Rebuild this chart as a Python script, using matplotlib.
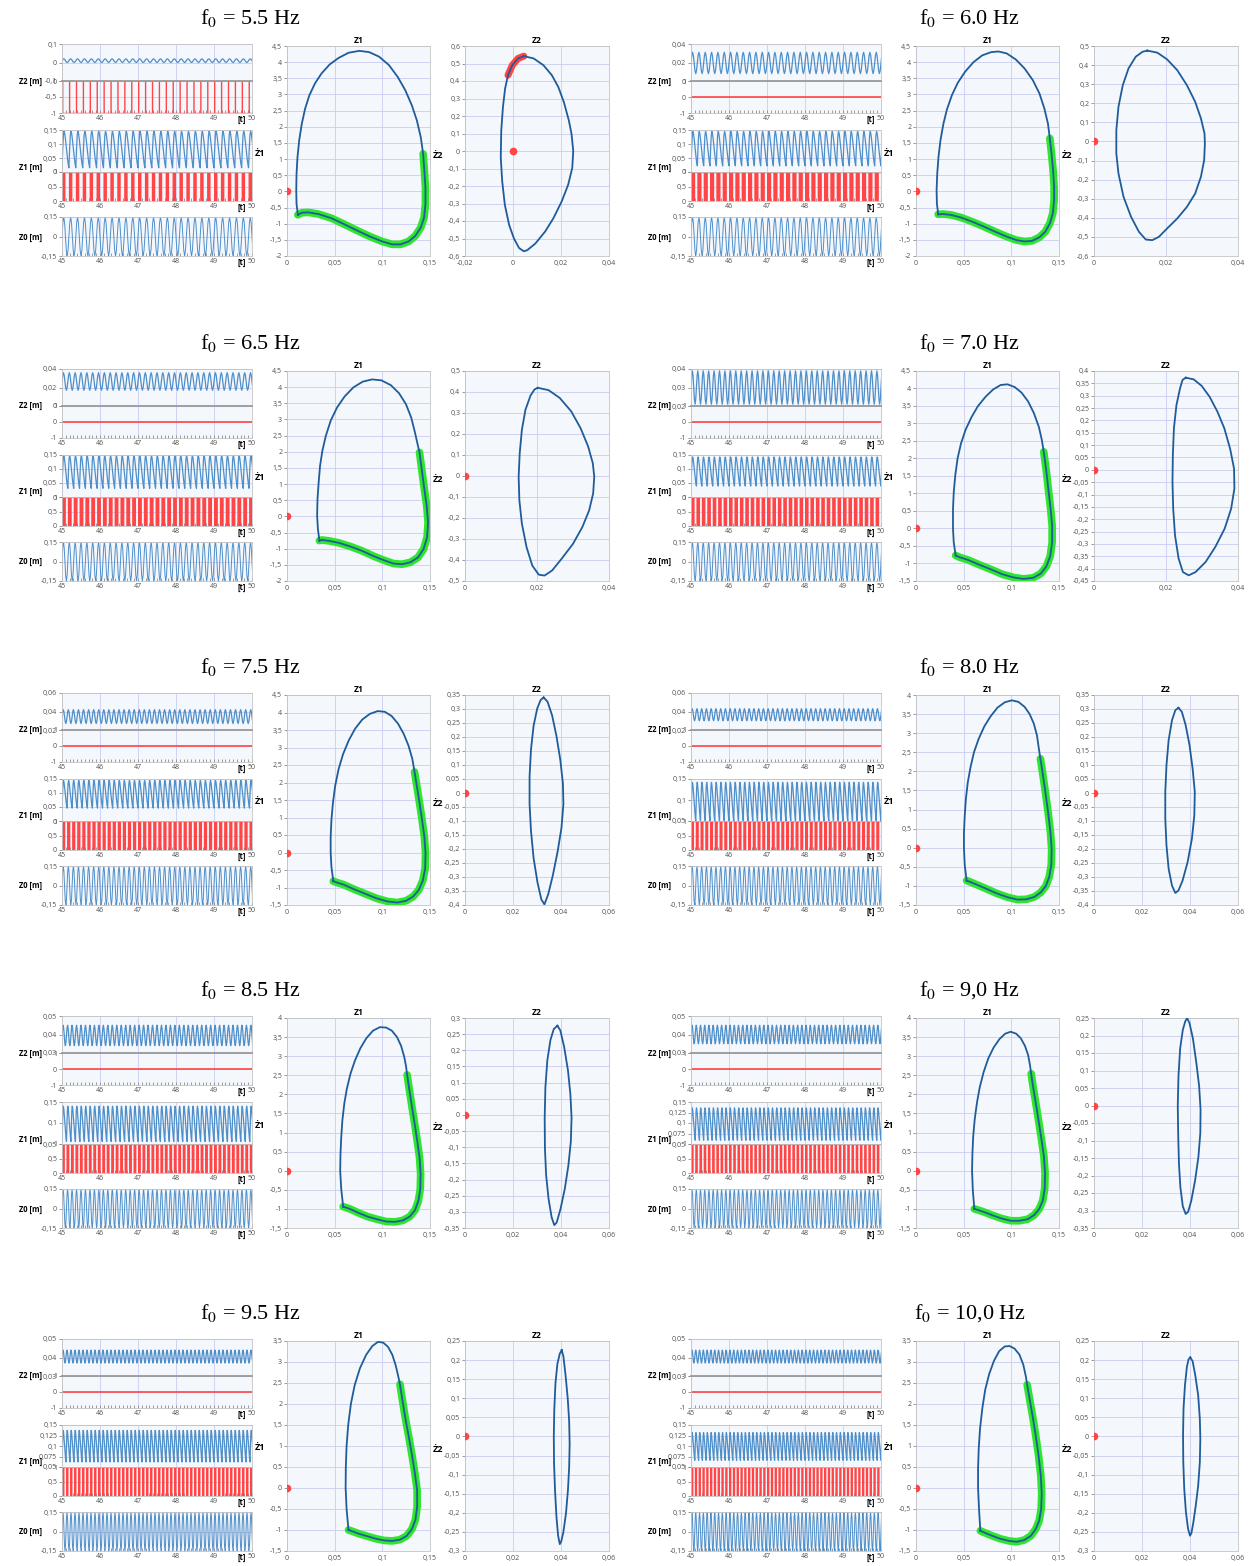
import numpy as np
import matplotlib
matplotlib.use('Agg')
import matplotlib.pyplot as plt

# ---- data ----
freq = [5.5, 6.0, 6.5, 7.0, 7.5, 8.0, 8.5, 9.0, 9.5, 10.0]
freq_label = ['5.5', '6.0', '6.5', '7.0', '7.5', '8.0', '8.5', '9,0', '9.5', '10,0']

# Z1 phase orbits (z1 [m], dz1/dt), from the lower-left corner, clockwise
z1_orbit = [
    [(0.0114, -0.725), (0.010, -0.39), (0.0097, 0.02), (0.010, 0.54), (0.011, 1.06), (0.0128, 1.58), (0.0155, 2.09),
     (0.019, 2.56), (0.0234, 2.97), (0.0293, 3.34), (0.0362, 3.65), (0.0448, 3.93), (0.0541, 4.13), (0.0645, 4.29),
     (0.0759, 4.35), (0.0862, 4.31), (0.0966, 4.17), (0.1069, 3.91), (0.1162, 3.54), (0.1241, 3.13), (0.131, 2.66),
     (0.1362, 2.2), (0.1403, 1.68), (0.1428, 1.16), (0.1441, 0.64), (0.1452, 0.12), (0.1452, -0.39), (0.1438, -0.81),
     (0.1403, -1.12), (0.1345, -1.38), (0.1276, -1.55), (0.119, -1.64), (0.1103, -1.64), (0.100, -1.55), (0.0879, -1.41),
     (0.0741, -1.22), (0.0603, -1.02), (0.0466, -0.83), (0.0328, -0.70), (0.0224, -0.65), (0.0155, -0.66), (0.0114, -0.725)],
    [(0.0233, -0.71), (0.0219, -0.37), (0.0216, 0.04), (0.0223, 0.56), (0.0236, 1.07), (0.0257, 1.59), (0.0288, 2.1),
     (0.0325, 2.54), (0.0377, 2.98), (0.0438, 3.36), (0.0514, 3.7), (0.0603, 4.0), (0.0695, 4.21), (0.0788, 4.31),
     (0.0866, 4.33), (0.0952, 4.27), (0.1048, 4.08), (0.114, 3.8), (0.1226, 3.44), (0.1295, 3.03), (0.1346, 2.57),
     (0.1384, 2.1), (0.1404, 1.64), (0.1421, 1.18), (0.1438, 0.66), (0.1449, 0.14), (0.1449, -0.27), (0.1435, -0.68),
     (0.1404, -0.99), (0.1356, -1.25), (0.1295, -1.42), (0.1219, -1.53), (0.114, -1.55), (0.1055, -1.51), (0.0952, -1.40),
     (0.0832, -1.25), (0.0712, -1.09), (0.0592, -0.94), (0.0473, -0.81), (0.037, -0.73), (0.0284, -0.70), (0.0233, -0.71)],
    [(0.034, -0.75), (0.0324, -0.39), (0.0316, 0.02), (0.032, 0.54), (0.0332, 1.05), (0.0347, 1.57), (0.0371, 2.03),
     (0.0407, 2.49), (0.0458, 2.96), (0.0525, 3.37), (0.0604, 3.71), (0.0695, 3.99), (0.0794, 4.17), (0.0892, 4.24),
     (0.0991, 4.21), (0.109, 4.06), (0.1176, 3.81), (0.1248, 3.47), (0.1303, 3.06), (0.1342, 2.6), (0.1374, 2.18),
     (0.139, 1.98), (0.1413, 1.46), (0.1441, 0.84), (0.1465, 0.33), (0.148, -0.19), (0.1469, -0.65), (0.1433, -1.01),
     (0.1374, -1.27), (0.1295, -1.42), (0.1208, -1.48), (0.1117, -1.46), (0.1019, -1.36), (0.090, -1.22), (0.0782, -1.06),
     (0.0663, -0.93), (0.0545, -0.82), (0.0446, -0.76), (0.0367, -0.73), (0.034, -0.75)],
    [(0.0416, -0.77), (0.0396, -0.40), (0.0388, 0.0), (0.0388, 0.56), (0.0396, 1.04), (0.0412, 1.52), (0.0436, 2.0),
     (0.0472, 2.43), (0.052, 2.82), (0.058, 3.17), (0.0648, 3.49), (0.0728, 3.76), (0.0808, 3.97), (0.0888, 4.10),
     (0.096, 4.12), (0.1036, 4.04), (0.1108, 3.88), (0.1176, 3.63), (0.1236, 3.3), (0.1288, 2.91), (0.132, 2.53),
     (0.134, 2.19), (0.1364, 1.71), (0.1388, 1.13), (0.1412, 0.56), (0.1428, 0.08), (0.1428, -0.40), (0.1408, -0.79),
     (0.1368, -1.08), (0.1308, -1.29), (0.1228, -1.41), (0.1128, -1.44), (0.1028, -1.40), (0.0908, -1.31), (0.0788, -1.17),
     (0.0668, -1.04), (0.0548, -0.90), (0.0456, -0.82), (0.0416, -0.77)],
    [(0.0486, -0.82), (0.0466, -0.41), (0.0458, 0.0), (0.0458, 0.45), (0.0466, 0.93), (0.0482, 1.42), (0.0505, 1.9),
     (0.0541, 2.38), (0.0588, 2.81), (0.0647, 3.2), (0.0715, 3.54), (0.079, 3.8), (0.0869, 3.96), (0.0951, 4.04),
     (0.1026, 4.02), (0.1097, 3.9), (0.1165, 3.68), (0.1224, 3.39), (0.1275, 3.05), (0.1315, 2.67), (0.1338, 2.3),
     (0.1362, 1.9), (0.139, 1.42), (0.1417, 0.93), (0.1441, 0.45), (0.1453, -0.03), (0.1449, -0.46), (0.1425, -0.80),
     (0.1382, -1.07), (0.1323, -1.26), (0.1248, -1.38), (0.1157, -1.43), (0.1058, -1.40), (0.094, -1.31), (0.0821, -1.18),
     (0.0703, -1.05), (0.0596, -0.92), (0.0525, -0.86), (0.0486, -0.82)],
    [(0.0531, -0.86), (0.0511, -0.45), (0.0503, 0.0), (0.0503, 0.39), (0.0511, 0.83), (0.0523, 1.27), (0.0543, 1.71),
     (0.0572, 2.11), (0.0608, 2.5), (0.0657, 2.85), (0.0717, 3.18), (0.0782, 3.44), (0.0855, 3.67), (0.0932, 3.81),
     (0.1005, 3.86), (0.1074, 3.82), (0.1139, 3.69), (0.1192, 3.5), (0.1236, 3.25), (0.1269, 2.94), (0.1289, 2.59),
     (0.1305, 2.33), (0.133, 1.93), (0.1358, 1.44), (0.1386, 0.92), (0.1411, 0.39), (0.1423, -0.05), (0.1419, -0.45),
     (0.1398, -0.76), (0.1362, -1.0), (0.1309, -1.17), (0.124, -1.29), (0.1159, -1.35), (0.1066, -1.36), (0.0965, -1.30),
     (0.0851, -1.20), (0.0742, -1.08), (0.064, -0.97), (0.0572, -0.90), (0.0531, -0.86)],
    [(0.0589, -0.94), (0.0569, -0.48), (0.0558, 0.0), (0.0561, 0.44), (0.0569, 0.88), (0.0581, 1.32), (0.0601, 1.76),
     (0.0628, 2.15), (0.0667, 2.55), (0.0715, 2.9), (0.077, 3.21), (0.0832, 3.47), (0.0903, 3.67), (0.0974, 3.76),
     (0.104, 3.75), (0.1099, 3.67), (0.1154, 3.5), (0.1197, 3.27), (0.1229, 2.99), (0.1249, 2.73), (0.126, 2.51),
     (0.1284, 2.11), (0.1311, 1.67), (0.1339, 1.23), (0.1366, 0.79), (0.139, 0.35), (0.1402, -0.09), (0.1398, -0.48),
     (0.1378, -0.79), (0.1343, -1.03), (0.1288, -1.20), (0.1217, -1.30), (0.1131, -1.34), (0.104, -1.33), (0.0942, -1.27),
     (0.0844, -1.20), (0.0746, -1.10), (0.066, -1.0), (0.0589, -0.94)],
    [(0.0612, -1.0), (0.0596, -0.51), (0.0588, 0.0), (0.0592, 0.46), (0.060, 0.9), (0.0616, 1.35), (0.064, 1.79),
     (0.0669, 2.19), (0.0709, 2.58), (0.0758, 2.94), (0.0815, 3.23), (0.0876, 3.45), (0.0936, 3.59), (0.0993, 3.64),
     (0.105, 3.59), (0.1099, 3.47), (0.1143, 3.27), (0.1176, 3.03), (0.1196, 2.76), (0.1208, 2.54), (0.1232, 2.14),
     (0.1261, 1.7), (0.1289, 1.26), (0.1317, 0.81), (0.1342, 0.37), (0.1354, -0.07), (0.135, -0.47), (0.133, -0.78),
     (0.1293, -1.0), (0.124, -1.16), (0.1171, -1.27), (0.1086, -1.31), (0.0993, -1.31), (0.0896, -1.25), (0.0795, -1.16),
     (0.0701, -1.07), (0.064, -1.02), (0.0612, -1.0)],
    [(0.0645, -1.0), (0.0625, -0.5), (0.0615, 0.0), (0.0617, 0.5), (0.0625, 1.0), (0.0642, 1.5), (0.067, 2.0),
     (0.071, 2.45), (0.0765, 2.85), (0.083, 3.17), (0.0895, 3.38), (0.0955, 3.48), (0.101, 3.46), (0.106, 3.36),
     (0.1105, 3.17), (0.114, 2.92), (0.1165, 2.68), (0.1185, 2.47), (0.121, 2.1), (0.124, 1.68), (0.1275, 1.25),
     (0.131, 0.8), (0.134, 0.37), (0.1365, -0.05), (0.1365, -0.45), (0.1348, -0.75), (0.131, -0.98), (0.1255, -1.14),
     (0.1185, -1.23), (0.1105, -1.26), (0.1025, -1.25), (0.0935, -1.21), (0.0845, -1.15), (0.0755, -1.09),
     (0.0685, -1.03), (0.0645, -1.0)],
    [(0.0675, -1.02), (0.0661, -0.5), (0.0651, 0.0), (0.0651, 0.46), (0.0658, 0.94), (0.0672, 1.42), (0.0696, 1.9),
     (0.0726, 2.34), (0.0767, 2.71), (0.0818, 3.03), (0.0873, 3.26), (0.0931, 3.37), (0.0982, 3.38), (0.1033, 3.32),
     (0.1084, 3.18), (0.1125, 2.94), (0.1152, 2.66), (0.1166, 2.46), (0.1193, 2.1), (0.1224, 1.7), (0.1255, 1.26),
     (0.1285, 0.78), (0.1309, 0.3), (0.1319, -0.14), (0.1313, -0.5), (0.1292, -0.78), (0.1255, -0.98), (0.1204, -1.14),
     (0.1135, -1.24), (0.1057, -1.28), (0.0975, -1.26), (0.0886, -1.21), (0.0801, -1.14), (0.0726, -1.07), (0.0675, -1.02)],
]
# dz1/dt on the falling branch where the green (contact) part starts
z1_contact_v = [1.16, 1.64, 1.98, 2.19, 2.3, 2.33, 2.51, 2.54, 2.47, 2.46]

# Z2 phase orbits, from the top, clockwise
z2_orbit = [
    [(0.0045, 0.542), (0.0086, 0.529), (0.0127, 0.49), (0.0162, 0.433), (0.0189, 0.365), (0.0212, 0.279), (0.0233, 0.173),
     (0.0244, 0.096), (0.0251, 0.0), (0.0247, -0.096), (0.023, -0.192), (0.0203, -0.288), (0.0168, -0.385), (0.0134, -0.46),
     (0.0093, -0.529), (0.0059, -0.567), (0.0045, -0.573), (0.0025, -0.554), (0.0004, -0.50), (-0.0016, -0.423),
     (-0.0034, -0.308), (-0.0045, -0.173), (-0.0051, -0.038), (-0.0049, 0.115), (-0.0042, 0.25), (-0.0033, 0.356),
     (-0.0021, 0.433), (-0.0003, 0.49), (0.0021, 0.529), (0.0045, 0.542)],
    [(0.0148, 0.476), (0.0176, 0.465), (0.0203, 0.43), (0.0231, 0.374), (0.0258, 0.295), (0.0281, 0.208), (0.0297, 0.121),
     (0.0307, 0.042), (0.0308, -0.01), (0.0306, -0.098), (0.0297, -0.185), (0.0281, -0.273), (0.0258, -0.343),
     (0.0231, -0.404), (0.0203, -0.456), (0.018, -0.50), (0.0162, -0.517), (0.0144, -0.514), (0.0125, -0.474),
     (0.0103, -0.395), (0.0082, -0.29), (0.0068, -0.168), (0.0062, -0.063), (0.0062, 0.059), (0.0068, 0.182),
     (0.008, 0.295), (0.0096, 0.383), (0.0116, 0.444), (0.0135, 0.47), (0.0148, 0.476)],
    [(0.0202, 0.42), (0.0232, 0.409), (0.0263, 0.372), (0.0295, 0.308), (0.0321, 0.228), (0.0342, 0.141), (0.0355, 0.061),
     (0.0359, -0.003), (0.0356, -0.083), (0.0345, -0.163), (0.0326, -0.243), (0.030, -0.323), (0.0268, -0.395),
     (0.0242, -0.45), (0.0221, -0.474), (0.0205, -0.47), (0.0187, -0.427), (0.0171, -0.339), (0.0158, -0.227),
     (0.0151, -0.115), (0.0149, -0.003), (0.0152, 0.109), (0.0158, 0.22), (0.0168, 0.316), (0.0182, 0.383),
     (0.0193, 0.412), (0.0202, 0.42)],
    [(0.0255, 0.373), (0.0277, 0.366), (0.0299, 0.34), (0.0321, 0.296), (0.0343, 0.235), (0.0362, 0.168), (0.0378, 0.086),
     (0.0389, 0.005), (0.039, -0.076), (0.0381, -0.157), (0.0363, -0.238), (0.0337, -0.312), (0.031, -0.373),
     (0.0282, -0.414), (0.0263, -0.427), (0.0247, -0.414), (0.0235, -0.359), (0.0225, -0.265), (0.022, -0.157),
     (0.0218, -0.049), (0.0219, 0.059), (0.0222, 0.168), (0.0229, 0.262), (0.0239, 0.33), (0.0246, 0.364), (0.0255, 0.373)],
    [(0.0328, 0.341), (0.0344, 0.326), (0.0363, 0.277), (0.0381, 0.204), (0.0397, 0.119), (0.0408, 0.034), (0.041, -0.039),
     (0.0402, -0.124), (0.0386, -0.209), (0.0366, -0.294), (0.0347, -0.361), (0.0331, -0.398), (0.0318, -0.38),
     (0.0302, -0.319), (0.0286, -0.234), (0.0275, -0.136), (0.0269, -0.039), (0.0269, 0.058), (0.0275, 0.156),
     (0.0286, 0.241), (0.0301, 0.302), (0.0315, 0.332), (0.0328, 0.341)],
    [(0.0352, 0.304), (0.0366, 0.29), (0.0382, 0.242), (0.0398, 0.171), (0.0411, 0.087), (0.042, 0.004), (0.0418, -0.08),
     (0.0408, -0.163), (0.039, -0.247), (0.0369, -0.313), (0.0352, -0.348), (0.0339, -0.357), (0.0325, -0.331),
     (0.0311, -0.271), (0.0302, -0.187), (0.0297, -0.092), (0.0297, 0.004), (0.0302, 0.099), (0.0311, 0.189),
     (0.0325, 0.26), (0.0339, 0.296), (0.0352, 0.304)],
    [(0.0385, 0.276), (0.0397, 0.262), (0.0413, 0.211), (0.0429, 0.138), (0.0439, 0.065), (0.0444, -0.008), (0.0441, -0.082),
     (0.0431, -0.155), (0.0416, -0.228), (0.0398, -0.291), (0.0382, -0.333), (0.0372, -0.341), (0.0361, -0.317),
     (0.0348, -0.259), (0.0338, -0.186), (0.0333, -0.103), (0.0332, -0.008), (0.0335, 0.086), (0.0343, 0.169),
     (0.0356, 0.232), (0.037, 0.266), (0.0385, 0.276)],
    [(0.0388, 0.25), (0.0398, 0.235), (0.0412, 0.192), (0.0426, 0.124), (0.0438, 0.056), (0.0444, -0.012), (0.0443, -0.079),
     (0.0435, -0.147), (0.0421, -0.215), (0.0405, -0.273), (0.0392, -0.304), (0.0382, -0.31), (0.037, -0.288),
     (0.036, -0.234), (0.0354, -0.167), (0.0351, -0.089), (0.0349, -0.002), (0.0352, 0.085), (0.0359, 0.163),
     (0.037, 0.216), (0.038, 0.24), (0.0388, 0.25)],
    [(0.0403, 0.226), (0.041, 0.21), (0.0419, 0.16), (0.0428, 0.10), (0.0434, 0.04), (0.0436, -0.02), (0.0434, -0.08),
     (0.0429, -0.14), (0.0421, -0.20), (0.041, -0.25), (0.0401, -0.275), (0.0395, -0.282), (0.0388, -0.26),
     (0.0381, -0.21), (0.0375, -0.14), (0.0371, -0.07), (0.037, 0.0), (0.0372, 0.07), (0.0377, 0.14), (0.0385, 0.19),
     (0.0395, 0.217), (0.0403, 0.226)],
    [(0.0401, 0.207), (0.0411, 0.197), (0.0422, 0.16), (0.0434, 0.108), (0.0441, 0.046), (0.0443, -0.006), (0.0441, -0.067),
     (0.0434, -0.129), (0.0424, -0.181), (0.0414, -0.225), (0.0406, -0.253), (0.040, -0.26), (0.0392, -0.242),
     (0.0383, -0.198), (0.0376, -0.137), (0.0372, -0.067), (0.0371, 0.003), (0.0373, 0.073), (0.0379, 0.134),
     (0.0387, 0.182), (0.0394, 0.202), (0.0401, 0.207)],
]
z2_contact_v_5_5 = 0.36  # red part of the 5.5 Hz Z2 orbit (rising branch above this)

# axis ranges of the phase plots
z1_vlim = [(-2, 4.5), (-2, 4.5), (-2, 4.5), (-1.5, 4.5), (-1.5, 4.5), (-1.5, 4), (-1.5, 4), (-1.5, 4), (-1.5, 3.5), (-1.5, 3.5)]
z2_xlim = [(-0.02, 0.04), (0, 0.04), (0, 0.04), (0, 0.04), (0, 0.06), (0, 0.06), (0, 0.06), (0, 0.06), (0, 0.06), (0, 0.06)]
z2_vlim = [(-0.6, 0.6), (-0.6, 0.5), (-0.5, 0.5), (-0.45, 0.4), (-0.4, 0.35), (-0.4, 0.35), (-0.35, 0.3), (-0.35, 0.25), (-0.3, 0.25), (-0.3, 0.25)]
z2_vstep = [0.1, 0.1, 0.1, 0.05, 0.05, 0.05, 0.05, 0.05, 0.05, 0.05]

# time histories 45..50 s
z2_lo = [0.0, 0.008, 0.017, 0.021, 0.027, 0.030, 0.034, 0.035, 0.037, 0.037]
z2_hi = [0.02, 0.031, 0.036, 0.039, 0.042, 0.043, 0.045, 0.045, 0.044, 0.044]
z1_lo = [0.015, 0.022, 0.031, 0.039, 0.046, 0.05, 0.056, 0.059, 0.062, 0.066]
z1_hi = [0.146, 0.145, 0.148, 0.143, 0.145, 0.142, 0.140, 0.136, 0.137, 0.132]
z2_ylim = [(-0.1, 0.1), (0, 0.04), (0, 0.04), (0.02, 0.04), (0.02, 0.06), (0.02, 0.06), (0.03, 0.05), (0.03, 0.05), (0.03, 0.05), (0.03, 0.05)]
z2_ystep = [0.1, 0.02, 0.02, 0.01, 0.02, 0.02, 0.01, 0.01, 0.01, 0.01]
z1_ylim = [(0, 0.15)] * 5 + [(0.05, 0.15)] * 5
z1_ystep = [0.05, 0.05, 0.05, 0.05, 0.05, 0.05, 0.05, 0.025, 0.025, 0.025]
z1_duty = [0.5, 0.66, 0.66, 0.66, 0.64, 0.64, 0.64, 0.62, 0.62, 0.62]
z2_duty_5_5 = 0.2
z0_amp = 0.15

# one period of each wave shape (normalised)
z1_wave = [0.0, 0.5, 0.88, 1.0, 0.93, 0.78, 0.6, 0.42, 0.25, 0.1]
z2_wave = [0.5, 0.85, 1.0, 0.85, 0.5, 0.15, 0.0, 0.15]
z0_wave = [0.0, 0.71, 1.0, 0.71, 0.0, -0.71, -1.0, -0.71]

# ---- drawing ----
W, H = 1258, 1566
BG = '#f4f7fb'
GRID = '#cacdf0'
TSBLUE = '#4f8fc9'
ORBIT = '#1f5c99'
GREEN = '#2fe52f'
RED = '#ff4545'

plt.rcParams['font.family'] = 'Open Sans'
plt.rcParams['mathtext.fontset'] = 'stix'

fig = plt.figure(figsize=(W / 100, H / 100), dpi=100)


def box(x0, y0, x1, y1):
    return fig.add_axes([x0 / W, 1 - y1 / H, (x1 - x0) / W, (y1 - y0) / H])


def fmt(v):
    return ('%g' % (round(v, 4) + 0.0)).replace('.', ',')


def ticks(lo, hi, step):
    return np.round(np.arange(lo, hi + step / 2, step), 4)


def style(ax, ylim, ystep):
    ax.set_facecolor(BG)
    for s in ax.spines.values():
        s.set_color('#c4c4c4')
        s.set_linewidth(0.6)
    ax.set_ylim(*ylim)
    yt = ticks(ylim[0], ylim[1], ystep)
    ax.set_yticks(yt)
    ax.set_yticklabels([fmt(v) for v in yt])
    ax.grid(True, color=GRID, lw=0.6)
    ax.set_axisbelow(True)
    ax.tick_params(labelsize=5, colors='#8a8a8a', labelcolor='#505050', length=2.5, width=0.6, pad=1)


def time_axis(ax, labels):
    ax.set_xlim(45, 50)
    ax.set_xticks([45, 46, 47, 48, 49, 50])
    if labels:
        ax.set_xticklabels(['45', '46', '47', '48', '49', '50'])
        ax.set_xticks(np.arange(45, 50.01, 0.1), minor=True)
        ax.tick_params(axis='x', which='minor', length=2, direction='in', color='#777777', width=0.5)
        ax.tick_params(axis='x', which='major', length=2, direction='in', pad=1.5)
        ax.annotate('[t]', xy=(50, 0), xycoords=('data', 'axes fraction'), xytext=(-4.5, -1.2),
                    textcoords='offset points', ha='right', va='top', fontsize=5.5, weight='bold')
    else:
        ax.set_xticklabels([])
        ax.tick_params(axis='x', length=0)


def tile(wave, f0, lo, hi):
    wave = np.asarray(wave)
    n = int(np.ceil(f0 * 5)) + 1
    k = len(wave)
    t = 45 + np.arange(n * k) / (k * f0)
    return t, lo + np.tile(wave, n) * (hi - lo)


def pulses(ax, f0, duty, on, off):
    n = int(np.ceil(f0 * 5)) + 1
    starts = 45 + np.arange(n) / f0
    bars = ax.bar(starts, on - off, bottom=off, width=duty / f0, align='edge', color=RED, lw=0)
    for b in bars:
        b.set_snap(False)
    ax.axhline(on, color=RED, lw=1.0)


rows_top = [18, 343, 667, 990, 1313]

for i in range(len(freq)):
    T = rows_top[i // 2]
    dx = 0 if i % 2 == 0 else 629
    f0 = freq[i]
    xl, xr = 62 + dx, 252 + dx

    fig.text((250 + dx * 1.144) / W, 1 - T / H, 'f$_0$ = ' + freq_label[i] + ' Hz', ha='center', va='center',
             fontsize=16, family='Liberation Serif')

    # Z2 history + contact
    ax = box(xl, T + 26, xr, T + 63)
    style(ax, z2_ylim[i], z2_ystep[i])
    time_axis(ax, False)
    t, v = tile(z2_wave, f0, z2_lo[i], z2_hi[i])
    ax.plot(t, v, color=TSBLUE, lw=0.9)
    ax = box(xl, T + 63, xr, T + 95)
    if i == 0:
        style(ax, (-1, 0), 0.5)
        pulses(ax, f0, z2_duty_5_5, -1, 0)
        ax.set_ylim(-1, 0)
    else:
        style(ax, (-1, 1), 1)
        ax.axhline(0, color=RED, lw=1.2)
    ax.spines['top'].set_color('#999999')
    ax.spines['top'].set_linewidth(1.3)
    time_axis(ax, True)
    fig.text((42 + dx) / W, 1 - (T + 63) / H, 'Z2 [m]', ha='right', va='center', fontsize=5.5, weight='bold')

    # Z1 history + contact
    ax = box(xl, T + 112, xr, T + 154)
    style(ax, z1_ylim[i], z1_ystep[i])
    time_axis(ax, False)
    t, v = tile(z1_wave, f0, z1_lo[i], z1_hi[i])
    ax.plot(t, v, color=TSBLUE, lw=0.9)
    ax = box(xl, T + 154, xr, T + 183)
    style(ax, (0, 1), 0.5)
    pulses(ax, f0, z1_duty[i], 1, 0)
    ax.set_ylim(0, 1)
    time_axis(ax, True)
    fig.text((42 + dx) / W, 1 - (T + 149) / H, 'Z1 [m]', ha='right', va='center', fontsize=5.5, weight='bold')

    # Z0 excitation
    ax = box(xl, T + 199, xr, T + 238)
    style(ax, (-0.15, 0.15), 0.15)
    t, v = tile(z0_wave, f0, 0, z0_amp)
    ax.plot(t, v, color=TSBLUE, lw=0.7)
    time_axis(ax, True)
    fig.text((42 + dx) / W, 1 - (T + 219) / H, 'Z0 [m]', ha='right', va='center', fontsize=5.5, weight='bold')

    # Z1 phase portrait
    ax = box(287 + dx, T + 28, 430 + dx, T + 238)
    style(ax, z1_vlim[i], 0.5)
    ax.set_xlim(0, 0.15)
    xt = ticks(0, 0.15, 0.05)
    ax.set_xticks(xt)
    ax.set_xticklabels([fmt(v) for v in xt])
    ax.tick_params(axis='x', length=0, pad=3)
    px, pv = zip(*z1_orbit[i])
    top = int(np.argmax(pv))
    g = next(k for k in range(top, len(pv)) if pv[k] <= z1_contact_v[i] + 1e-9)
    ax.plot(px[g:], pv[g:], color=GREEN, lw=5.5, solid_capstyle='round', solid_joinstyle='round', zorder=2)
    ax.plot(px, pv, color=ORBIT, lw=1.3, zorder=3)
    ax.plot([0], [0], 'o', color=RED, ms=4.5, zorder=4)
    ax.set_title('Z1', fontsize=6, weight='bold', pad=2)
    fig.text((260 + dx) / W, 1 - (T + 135) / H, 'Ż1', ha='center', va='center', fontsize=6.5, weight='bold')

    # Z2 phase portrait
    ax = box(465 + dx, T + 28, 609 + dx, T + 238)
    style(ax, z2_vlim[i], z2_vstep[i])
    ax.set_xlim(*z2_xlim[i])
    xt = ticks(z2_xlim[i][0], z2_xlim[i][1], 0.02)
    ax.set_xticks(xt)
    ax.set_xticklabels([fmt(v) for v in xt])
    ax.tick_params(axis='x', length=0, pad=3)
    qx, qv = zip(*z2_orbit[i])
    if i == 0:
        low = int(np.argmin(qv))
        a = next(k for k in range(low, len(qv)) if qv[k] >= z2_contact_v_5_5)
        ax.plot(qx[a:], qv[a:], color=RED, lw=5, solid_capstyle='round', zorder=2)
    ax.plot(qx, qv, color=ORBIT, lw=1.3, zorder=3)
    ax.plot([0], [0], 'o', color=RED, ms=4.5, zorder=4)
    ax.set_title('Z2', fontsize=6, weight='bold', pad=2)
    fig.text((438 + dx) / W, 1 - (T + 137) / H, 'Ż2', ha='center', va='center', fontsize=6.5, weight='bold')

fig.savefig('out.png', dpi=100, facecolor='white')
